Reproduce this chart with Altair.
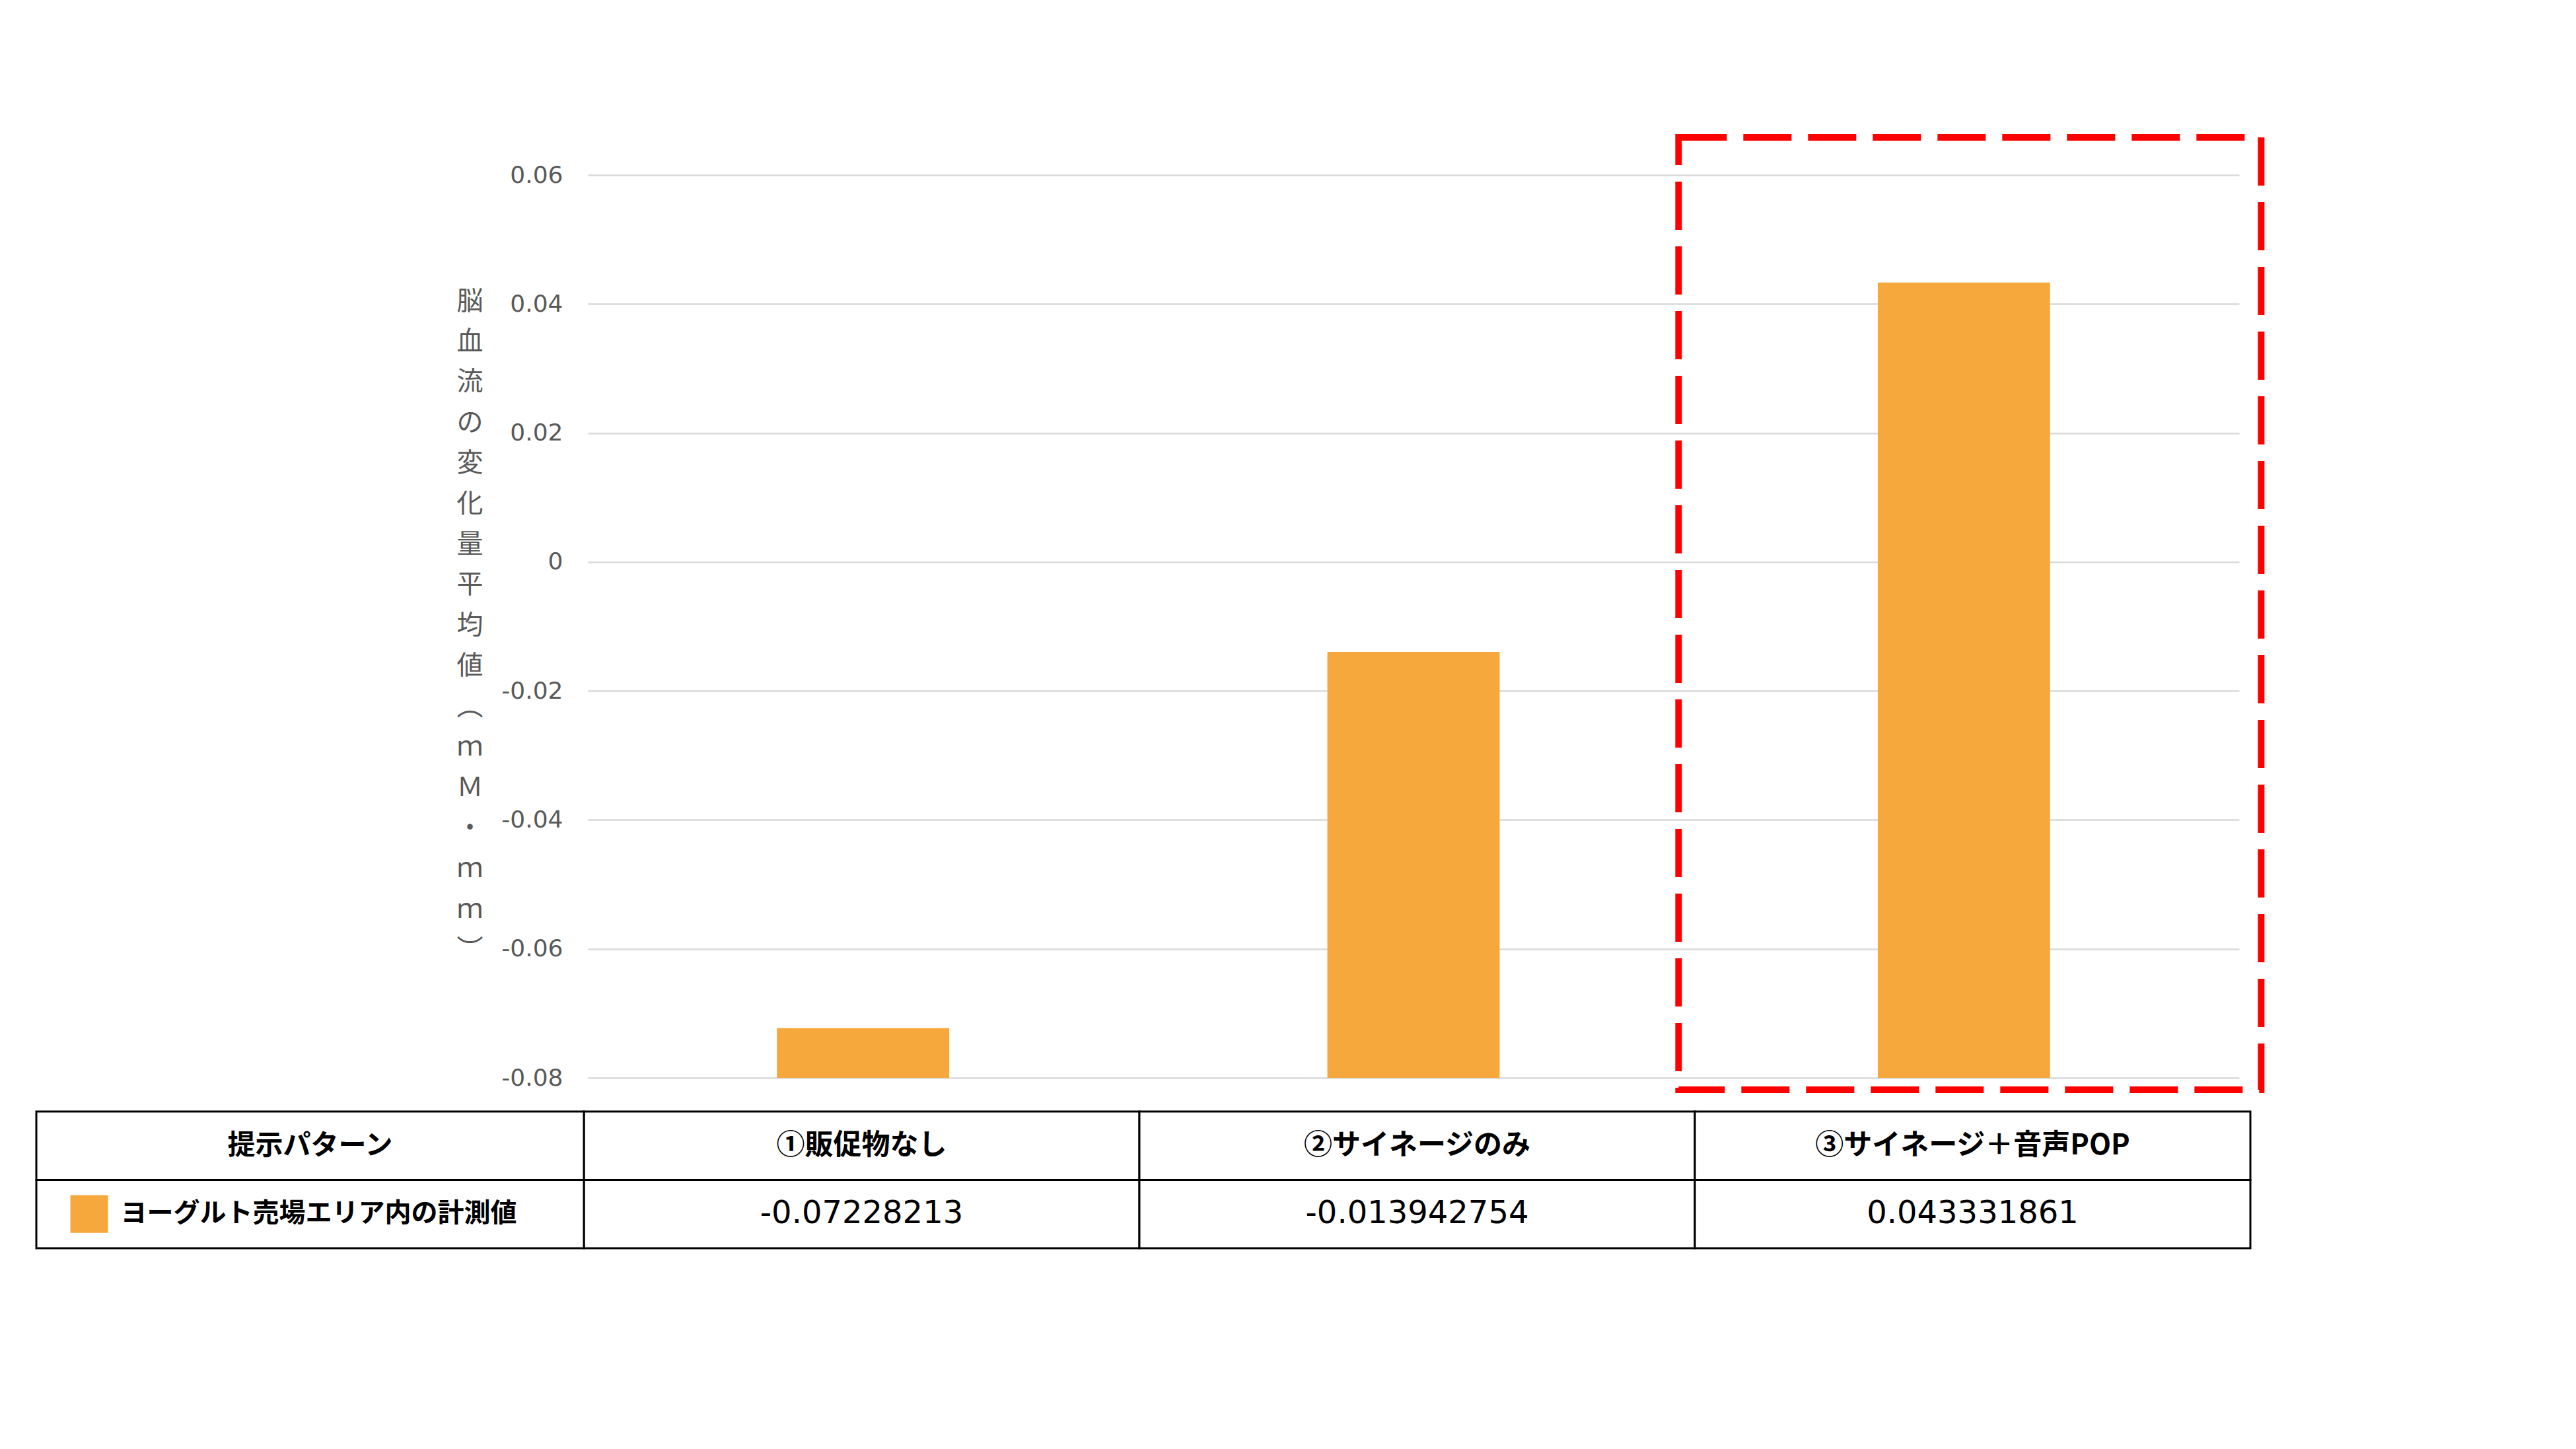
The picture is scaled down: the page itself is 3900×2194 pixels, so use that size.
import altair as alt
import pandas as pd

# ---------------- data ----------------
categories = ["①販促物なし", "②サイネージのみ", "③サイネージ＋音声POP"]
values = [-0.07228213, -0.013942754, 0.043331861]
series_name = "ヨーグルト売場エリア内の計測値"
header_label = "提示パターン"
y_ticks = [-0.08, -0.06, -0.04, -0.02, 0, 0.02, 0.04, 0.06]
y_title = ["脳", "血", "流", "の", "変", "化", "量", "平", "均", "値",
           "︵", "ｍ", "Ｍ", "・", "ｍ", "ｍ", "︶"]
highlight_category = [categories[2]]

# ---------------- styles ----------------
BAR = "#F7A83C"
GRAY = "#595959"
W, H = 2500, 1367

bars_df = pd.DataFrame({"cat": categories, "value": values})
hl_df = pd.DataFrame({"cat": highlight_category,
                      "top": [y_ticks[-1]], "bottom": [y_ticks[0]]})

xb = alt.X("cat:N", sort=categories, axis=None,
           scale=alt.Scale(domain=categories, paddingInner=0.687, paddingOuter=0.3435))
ys = alt.Scale(domain=[y_ticks[0], y_ticks[-1]], nice=False, zero=False)

y_axis = alt.Axis(
    values=y_ticks, labelExpr="'' + datum.value", grid=True, ticks=False, domain=False,
    gridColor="#D9D9D9", gridWidth=2.5,
    labelFont="DejaVu Sans", labelFontSize=36, labelColor=GRAY, labelPadding=38,
    title=y_title, titleAngle=0, titleX=-179, titleY=191, titleAlign="center",
    titleBaseline="middle", titleFont="Noto Sans CJK JP", titleFontSize=40,
    titleFontWeight="normal", titleColor=GRAY, titleLineHeight=61.4,
)

bars = alt.Chart(bars_df).mark_bar(color=BAR).encode(
    x=xb,
    y=alt.Y("value:Q", scale=ys, axis=y_axis),
    y2=alt.datum(y_ticks[0]),
)

hl = alt.Chart(hl_df).mark_bar(
    width=882, xOffset=9, yOffset=-57, y2Offset=18,
    fillOpacity=0, stroke="#FF0000", strokeWidth=10, strokeDash=[73, 25],
).encode(
    x=xb,
    y=alt.Y("top:Q", scale=ys, axis=y_axis),
    y2="bottom:Q",
)

inner = alt.layer(bars, hl)

# ---------------- data table ----------------
rows = []
for c in categories:
    rows.append({"col": c, "row": "h", "text": c, "kind": "head"})
for c, v in zip(categories, values):
    rows.append({"col": c, "row": "d", "text": str(v), "kind": "num"})
table_df = pd.DataFrame(rows)

hdr_rows = [
    {"col": header_label, "row": "h", "text": header_label, "kind": "head"},
    {"col": header_label, "row": "d", "text": series_name, "kind": "label"},
]
hdr_df = pd.DataFrame(hdr_rows)

yt = alt.Y("row:N", axis=None, sort=["h", "d"],
           scale=alt.Scale(domain=["h", "d"], range=[1418, 1625],
                           paddingInner=0, paddingOuter=0))

# data columns
xt = alt.X("col:N", axis=None, sort=categories,
           scale=alt.Scale(domain=categories, range=[-6, 2517],
                           paddingInner=0, paddingOuter=0))
base_t = alt.Chart(table_df)
cells = base_t.mark_rect(fill="white", stroke="black", strokeWidth=3).encode(x=xt, y=yt)
head_txt = base_t.transform_filter(alt.datum.kind == "head").mark_text(
    font="Noto Sans CJK JP", fontWeight="bold", fontSize=43, color="black",
    baseline="middle", align="center",
).encode(x=xt, y=yt, text="text:N")
num_txt = base_t.transform_filter(alt.datum.kind == "num").mark_text(
    font="DejaVu Sans", fontSize=48, color="black",
    baseline="middle", align="center",
).encode(x=xt, y=yt, text="text:N")
table = alt.layer(cells, head_txt, num_txt)

# header column
xh = alt.X("col:N", axis=None,
           scale=alt.Scale(domain=[header_label], range=[-835, -6],
                           paddingInner=0, paddingOuter=0))
base_h = alt.Chart(hdr_df)
h_cells = base_h.mark_rect(fill="white", stroke="black", strokeWidth=3).encode(x=xh, y=yt)
h_head = base_h.transform_filter(alt.datum.kind == "head").mark_text(
    font="Noto Sans CJK JP", fontWeight="bold", fontSize=42, color="black",
    baseline="middle", align="center",
).encode(x=xh, y=yt, text="text:N")
h_label = base_h.transform_filter(alt.datum.kind == "label").mark_text(
    font="Noto Sans CJK JP", fontWeight="bold", fontSize=40, color="black",
    baseline="middle", align="left", dx=-287,
).encode(x=xh, y=yt, text="text:N")
h_swatch = base_h.transform_filter(alt.datum.kind == "label").mark_square(
    size=3249, color=BAR, opacity=1, filled=True, xOffset=-334.5,
).encode(x=xh, y=yt)
hcol = alt.layer(h_cells, h_head, h_label, h_swatch)

chart = alt.layer(inner, table, hcol).resolve_scale(
    x="independent", y="independent"
).properties(
    width=W, height=H,
    autosize=alt.AutoSizeParams(type="none"),
    padding={"left": 882, "top": 257, "right": 490, "bottom": 540},
    background="white",
).configure_view(strokeWidth=0)

chart.save("out.html", embed_options={"renderer": "svg", "actions": False})
